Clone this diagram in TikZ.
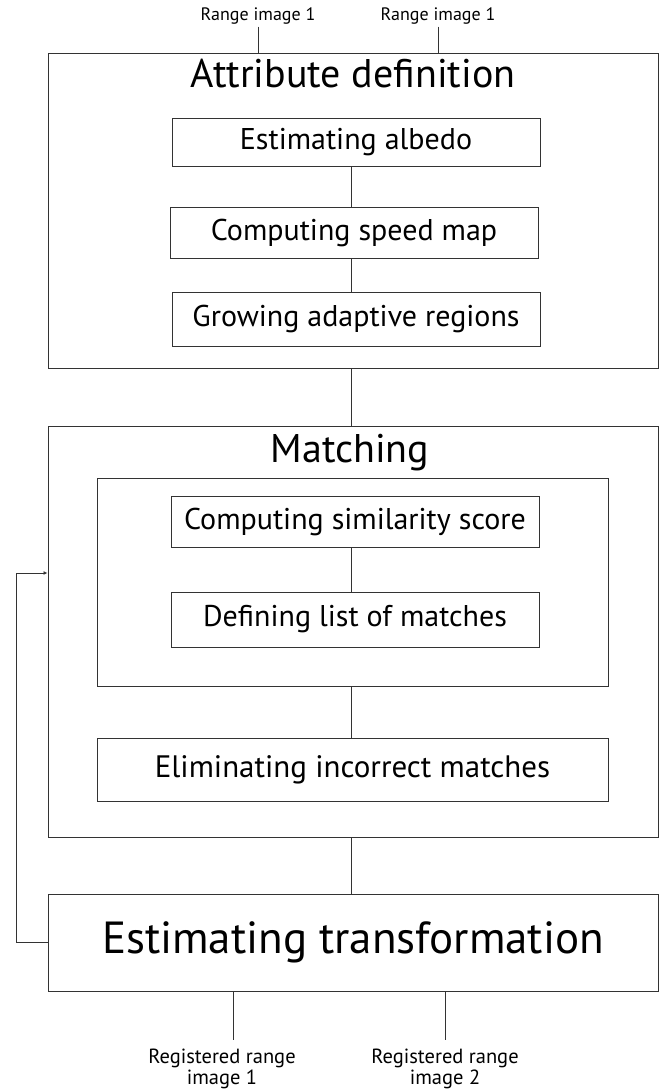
\documentclass[tikz,border=0pt]{standalone}
\usepackage{fontspec}
\setmainfont{PT Sans}
\usetikzlibrary{arrows.meta}
\tikzstyle{outer}=[draw=black!80,line width=1pt,inner sep=0pt]
\tikzstyle{step box}=[draw=black!80,line width=0.9pt,inner sep=0pt,font=\fontsize{30}{34}\selectfont]
\tikzstyle{title}=[inner sep=0pt,anchor=base,font=\fontsize{40}{44}\selectfont]
\tikzstyle{io}=[inner sep=2pt,align=center,font=\fontsize{18}{20}\selectfont]
\tikzstyle{result}=[io,anchor=north,inner ysep=9pt,font=\fontsize{20.5}{21}\selectfont]
\tikzstyle{link}=[draw=black!80,line width=0.9pt]

\begin{document}
\begin{tikzpicture}[x=1pt,y=-1pt]
			\useasboundingbox (0,0) rectangle (663,1089);
			\coordinate (spine) at (351,0);
			\node (attr) at (353,211) [outer,minimum width=610,minimum height=314] {};
			\node at (353,88) [title] {Attribute definition};
			\node (albedo) at (356,142) [step box,minimum width=368,minimum height=48] {Estimating albedo};
			\node (speed) at (354,232.5) [step box,minimum width=368,minimum height=51] {Computing speed map};
			\node (grow) at (356,319) [step box,minimum width=368,minimum height=54] {Growing adaptive regions};
			\node (match) at (353,631.5) [outer,minimum width=610,minimum height=411] {};
			\node at (350,462) [title] {Matching};
			\node (group) at (352.5,582) [outer,minimum width=511,minimum height=208] {};
			\node (sim) at (355,521.5) [step box,minimum width=368,minimum height=51] {Computing similarity score};
			\node (list) at (355,619.5) [step box,minimum width=368,minimum height=55] {Defining list of matches};
			\node (elim) at (352.5,769.5) [step box,minimum width=511,minimum height=63,font=\fontsize{31}{34}\selectfont] {Eliminating incorrect matches};
			\node (trans) at (353,942.5) [outer,minimum width=610,minimum height=97,font=\fontsize{45}{50}\selectfont] {Estimating transformation};
			\node (in1) at (258,16) [io] {Range image 1};
			\node (in2) at (438,16) [io] {Range image 1};
			\node (out1) at (222,1040) [result] {Registered range\\image 1};
			\node (out2) at (445,1040) [result] {Registered range\\image 2};
			\coordinate (back) at (16,573);
			% connectors
			\draw[link] (in1.south) -- (in1.south |- attr.north);
			\draw[link] (in2.south) -- (in2.south |- attr.north);
			\draw[link] (albedo.south -| spine) -- (speed.north -| spine);
			\draw[link] (speed.south -| spine) -- (grow.north -| spine);
			\draw[link] (attr.south -| spine) -- (match.north -| spine);
			\draw[link] (sim.south -| spine) -- (list.north -| spine);
			\draw[link] (group.south -| spine) -- (elim.north -| spine);
			\draw[link] (match.south -| spine) -- (trans.north -| spine);
			\draw[link] ([xshift=11pt]out1.north |- trans.south) -- ([xshift=11pt]out1.north);
			\draw[link] (trans.south -| out2.north) -- (out2.north);
			\draw[link,-{Latex[length=4pt,width=4pt]}] (trans.west) -| (back) -- (back -| match.west);
		\end{tikzpicture}
\end{document}
